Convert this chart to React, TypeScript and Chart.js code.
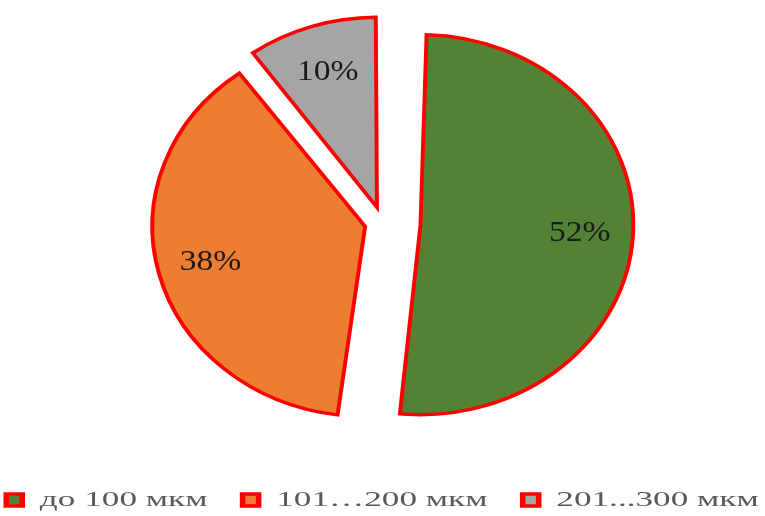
import React, { useEffect, useRef } from 'react';
import { Chart, registerables } from 'chart.js';

Chart.register(...registerables);

const categories = ['до 100 мкм', '101…200 мкм', '201...300 мкм'];
const shares = [52, 38, 10];
const sliceColors = ['#548235', '#ED7D31', '#A5A5A5'];
// Chart.js arc "offset" values (the library moves a slice by offset / 4)
const explodeOffsets = [136, 64, 64];

const PIE_STRETCH = 1.12;
const LEGEND_STRETCH = 1.6;

const arcFix = (arc: any) => {
  const off = ((arc.options && arc.options.offset) || 0) / 4;
  const fix = 1 - Math.sin(Math.min(Math.PI, arc.circumference || 0));
  return { off, grow: off * fix };
};

// Chart.js also enlarges the radius of an offset arc by offset/4 * (1 - sin(angle));
// undo that so every slice keeps the dataset radius.
const arcRadiusFixPlugin = {
  id: 'arcRadiusFix',
  afterDatasetUpdate(chart: any, args: any) {
    const meta = chart.getDatasetMeta(args.index);
    meta.data.forEach((arc: any) => {
      arc.outerRadius = arc.outerRadius - arcFix(arc).grow;
    });
  },
};

const stretchPlugin = {
  id: 'stretchPie',
  beforeDraw(chart: any) {
    const ctx = chart.ctx;
    const cx = chart.width / 2;
    ctx.save();
    ctx.translate(cx, 0);
    ctx.scale(LEGEND_STRETCH, 1);
    ctx.translate(-cx, 0);
  },
  beforeDatasetsDraw(chart: any) {
    const ctx = chart.ctx;
    ctx.restore();
    const area = chart.chartArea;
    const cx = (area.left + area.right) / 2;
    ctx.save();
    ctx.translate(cx, 0);
    ctx.scale(PIE_STRETCH, 1);
    ctx.translate(-cx, 0);
  },
  afterDatasetsDraw(chart: any) {
    const ctx = chart.ctx;
    const meta = chart.getDatasetMeta(0);
    ctx.save();
    ctx.font = '30px "Liberation Serif", "Times New Roman", serif';
    ctx.fillStyle = '#1a1a1a';
    ctx.textAlign = 'center';
    ctx.textBaseline = 'middle';
    meta.data.forEach((arc: any, i: number) => {
      const p = arc.getProps(['x', 'y', 'startAngle', 'endAngle', 'outerRadius'], true);
      const mid = (p.startAngle + p.endAngle) / 2;
      const { off, grow } = arcFix(arc);
      const ox = p.x + Math.cos(mid) * off;
      const oy = p.y + Math.sin(mid) * off;
      const d = (p.outerRadius + grow) * 0.75;
      ctx.fillText(shares[i] + '%', ox + Math.cos(mid) * d, oy + Math.sin(mid) * d);
    });
    ctx.restore();
    ctx.restore();
  },
};

export default function App() {
  const canvasRef = useRef<HTMLCanvasElement | null>(null);

  useEffect(() => {
    const canvas = canvasRef.current;
    if (!canvas) return;
    const chart = new Chart(canvas, {
      type: 'pie',
      data: {
        labels: categories,
        datasets: [
          {
            data: shares,
            backgroundColor: sliceColors,
            borderColor: '#FF0000',
            borderWidth: 3.5,
            borderJoinStyle: 'miter',
            offset: explodeOffsets,
            radius: 190,
          } as any,
        ],
      },
      options: {
        responsive: false,
        animation: false,
        devicePixelRatio: 1,
        layout: { padding: { top: 0, bottom: -5, left: 0, right: 0 } },
        plugins: {
          legend: {
            position: 'bottom',
            title: {
              display: true,
              text: '',
              font: { size: 10 },
              padding: { top: 10, bottom: 0 },
            },
            labels: {
              boxWidth: 10,
              boxHeight: 12,
              padding: 22,
              color: '#595959',
              font: { family: '"Liberation Serif", "Times New Roman", serif', size: 22 },
            },
          },
          tooltip: { enabled: false },
        },
      } as any,
      plugins: [arcRadiusFixPlugin, stretchPlugin],
    });
    return () => chart.destroy();
  }, []);

  return (
    <div style={{ position: 'fixed', left: 0, top: 0, width: 765, height: 516, background: '#fff' }}>
      <canvas ref={canvasRef} width={765} height={516} />
    </div>
  );
}
